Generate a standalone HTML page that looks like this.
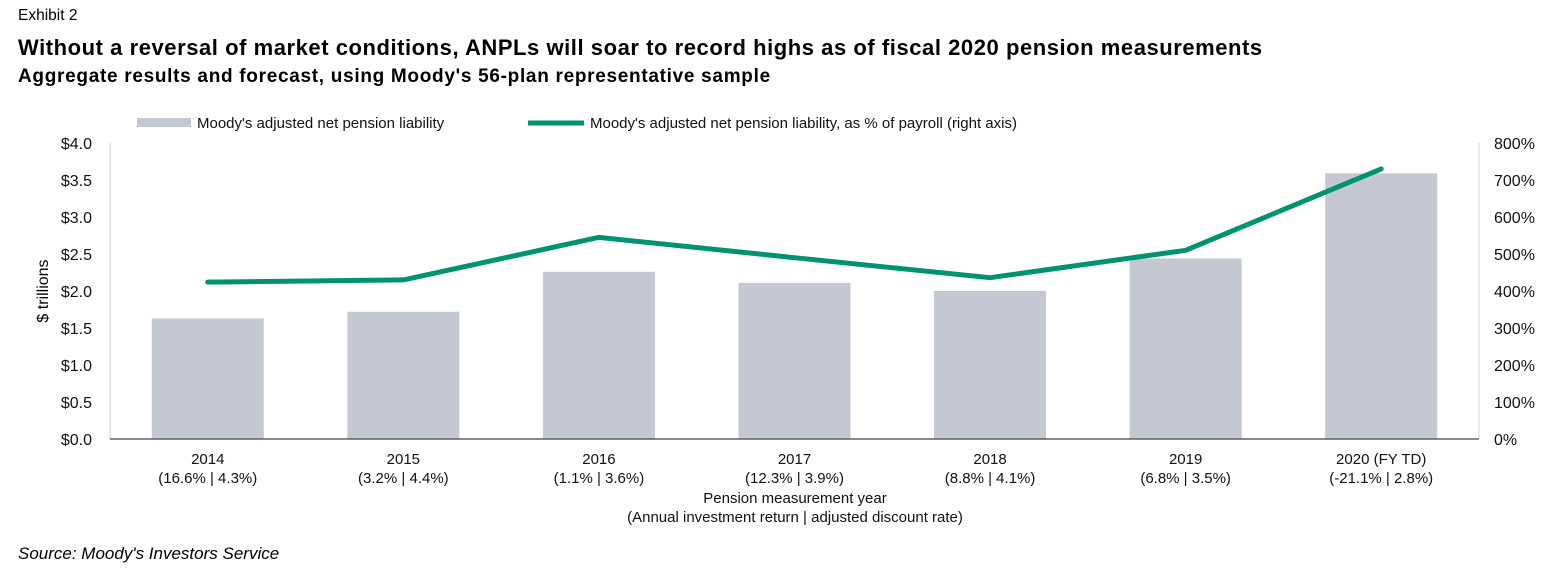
<!DOCTYPE html>
<html><head><meta charset="utf-8"><style>
body{margin:0;background:#fff;width:1548px;height:577px;overflow:hidden;font-family:"Liberation Sans",sans-serif;}
.t{position:absolute;white-space:nowrap;color:#000}
</style></head><body>
<div class="t" style="left:18px;top:7px;font-size:15.5px">Exhibit 2</div>
<div class="t" style="left:18px;top:35px;font-size:22px;font-weight:bold;letter-spacing:0.55px">Without a reversal of market conditions, ANPLs will soar to record highs as of fiscal 2020 pension measurements</div>
<div class="t" style="left:18px;top:66px;font-size:19px;font-weight:bold;letter-spacing:0.7px">Aggregate results and forecast, using Moody's 56-plan representative sample</div>
<div class="t" style="left:18px;top:544px;font-size:17px;font-style:italic">Source: Moody's Investors Service</div>
<svg id="chart" width="1548" height="577" style="position:absolute;left:0;top:0" font-family="Liberation Sans, sans-serif"></svg>
<script>
const categories=["2014","2015","2016","2017","2018","2019","2020 (FY TD)"];
const subLabels=["(16.6% | 4.3%)","(3.2% | 4.4%)","(1.1% | 3.6%)","(12.3% | 3.9%)","(8.8% | 4.1%)","(6.8% | 3.5%)","(-21.1% | 2.8%)"];
const liability=[1.63,1.72,2.26,2.11,2.00,2.44,3.59];
const pctPayroll=[424,430,545,490,436,510,730];
const leftTicks=["$0.0","$0.5","$1.0","$1.5","$2.0","$2.5","$3.0","$3.5","$4.0"];
const rightTicks=["0%","100%","200%","300%","400%","500%","600%","700%","800%"];
const svg=document.getElementById('chart');const NS='http://www.w3.org/2000/svg';
const X0=110,X1=1479,Y0=439,Y1=143;
const band=(X1-X0)/categories.length;
const xc=i=>X0+band*(i+0.5);
const yL=v=>Y0-(v/4)*(Y0-Y1);
const yR=v=>Y0-(v/800)*(Y0-Y1);
function mk(tag,attrs,txt){const e=document.createElementNS(NS,tag);for(const k in attrs)e.setAttribute(k,attrs[k]);if(txt!==undefined)e.textContent=txt;svg.appendChild(e);return e;}
let e;
e=mk('line',{x1:X0,y1:Y1,x2:X0,y2:Y0,stroke:'#d0d0d0','stroke-width':1});


e=mk('line',{x1:X1,y1:Y1,x2:X1,y2:Y0,stroke:'#d0d0d0','stroke-width':1});


liability.forEach((v,i)=>{
 const b=mk('rect',{x:xc(i)-56,y:yL(v),width:112,height:Y0-yL(v),fill:'#c4c8d2'});
 
 
});
e=mk('line',{x1:X0,y1:Y0,x2:X1,y2:Y0,stroke:'#444','stroke-width':1.3});


const pts=pctPayroll.map((v,i)=>xc(i)+','+yR(v)).join(' ');
e=mk('polyline',{points:pts,fill:'none',stroke:'#00936f','stroke-width':5,'stroke-linecap':'round','stroke-linejoin':'round'});


leftTicks.forEach((t,i)=>{const el=mk('text',{x:92,y:yL(i*0.5)+6,'text-anchor':'end','font-size':16,fill:'#111'},t);
 
 });
rightTicks.forEach((t,i)=>{const el=mk('text',{x:1494,y:yR(i*100)+6,'font-size':16,fill:'#111'},t);
 
 });
categories.forEach((c,i)=>{
 let el=mk('text',{x:xc(i),y:464,'text-anchor':'middle','font-size':15,fill:'#111'},c);
 
 
 el=mk('text',{x:xc(i),y:483,'text-anchor':'middle','font-size':15,fill:'#111'},subLabels[i]);
 
 
});
e=mk('text',{x:795,y:503,'text-anchor':'middle','font-size':15,fill:'#111'},'Pension measurement year');


e=mk('text',{x:795,y:522,'text-anchor':'middle','font-size':15,fill:'#111'},'(Annual investment return | adjusted discount rate)');


e=mk('text',{x:48,y:291,'text-anchor':'middle','font-size':16,fill:'#000',transform:'rotate(-90 48 291)'},'$ trillions');


e=mk('rect',{x:137,y:118,width:54,height:9,fill:'#c4c8d2'});


e=mk('text',{x:197,y:128,'font-size':15,fill:'#111'},"Moody's adjusted net pension liability");


e=mk('line',{x1:528,y1:123,x2:584,y2:123,stroke:'#00936f','stroke-width':5});


e=mk('text',{x:590,y:128,'font-size':15,fill:'#111'},"Moody's adjusted net pension liability, as % of payroll (right axis)");


</script>
</body></html>
